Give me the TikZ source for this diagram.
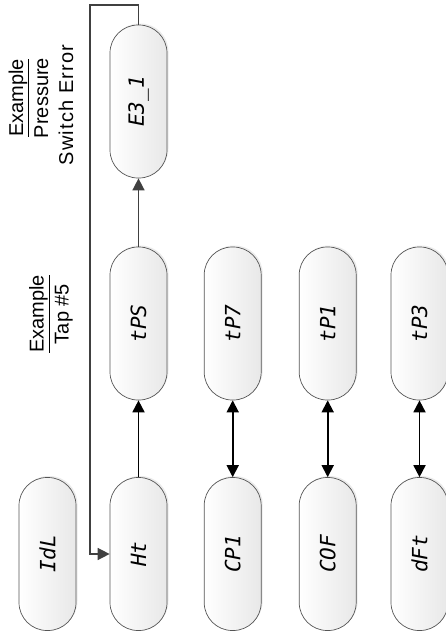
\documentclass[tikz,border=0pt]{standalone}
\usepackage{fontspec}
\setmainfont{Liberation Sans}
\newfontfamily\spacedfont{Liberation Sans}[LetterSpace=6]
\newfontfamily\segfont{DejaVu Sans Mono}
\usetikzlibrary{arrows.meta,shadows}
\definecolor{pillborder}{HTML}{555555}
\definecolor{loopgray}{HTML}{404040}
\tikzset{
  pill/.style={draw=pillborder, line width=0.7pt, rectangle, rounded corners=28pt,
    minimum width=57pt, minimum height=153pt, inner sep=0pt,
    left color=white, right color=black!9,
    drop shadow={shadow xshift=1.5pt, shadow yshift=1.5pt, fill=black, opacity=0.08},
    font=\segfont\itshape\fontsize{21}{21}\selectfont},
  tip/.style={Triangle[length=12pt,width=12pt]},
  dblarrow/.style={line width=1.8pt, black, {Triangle[length=12pt,width=12pt]}-{Triangle[length=12pt,width=12pt]}},
  onearrow/.style={line width=1.8pt, black, -{Triangle[length=12pt,width=12pt]}},
  grayarrow/.style={line width=1.5pt, loopgray, -{Triangle[length=12pt,width=12pt]}},
  label/.style={align=center, rotate=90, font=\fontsize{20}{25}\selectfont, inner sep=0pt}
}
\begin{document}
\begin{tikzpicture}[x=1pt,y=-1pt]
\useasboundingbox (0,0) rectangle (445,635);
% bottom row
\node[pill] (idl) at (47.5,554) {\rotatebox{90}{IdL}};
\node[pill] (ht)  at (138.5,554) {\rotatebox{90}{Ht}};
\node[pill] (cp1) at (232.7,554) {\rotatebox{90}{CP1}};
\node[pill] (cof) at (327.7,554) {\rotatebox{90}{COF}};
\node[pill] (dft) at (419.5,554) {\rotatebox{90}{dFt}};
% top row
\node[pill] (tps) at (138.5,323.5) {\rotatebox{90}{tPS}};
\node[pill] (tp7) at (232.7,323.5) {\rotatebox{90}{tP7}};
\node[pill] (tp1) at (327.7,323.5) {\rotatebox{90}{tP1}};
\node[pill] (tp3) at (419.5,323.5) {\rotatebox{90}{tP3}};
% error
\node[pill] (e31) at (138.5,101.5) {\rotatebox{90}{E3\_1}};
% labels
\node[label] (lab1) at (41,98) {\underline{Example}\\Pressure\\{\spacedfont Switch Error}\hspace*{14pt}};
\node[label] (lab2) at (51,314) {\underline{Example}\\Tap \#5};
% connectors
\draw[onearrow] (ht.north) -- (tps.south);
\draw[dblarrow] (cp1.north) -- (tp7.south);
\draw[dblarrow] (cof.north) -- (tp1.south);
\draw[dblarrow] (dft.north) -- (tp3.south);
\draw[grayarrow] (tps.north) -- (e31.south);
\coordinate (loopa) at (90,5);
\draw[grayarrow] (e31.north) |- (loopa) |- (ht.west);
\end{tikzpicture}
\end{document}
